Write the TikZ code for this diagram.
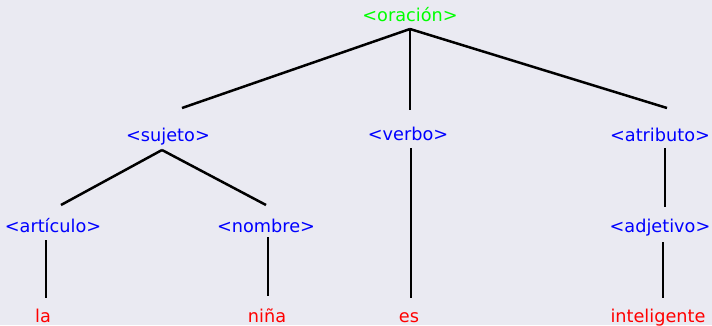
\documentclass[tikz,border=0pt]{standalone}
\usepackage{fontspec}
\setmainfont{DejaVu Sans}
\definecolor{bgtree}{HTML}{EAEAF2}
\definecolor{rootgreen}{HTML}{00FF00}
\begin{document}
\begin{tikzpicture}[x=1pt,y=-1pt]
\tikzset{every node/.style={inner sep=0pt,anchor=base,font=\fontsize{17.7}{21}\selectfont},
  rule/.style={text=blue},
  word/.style={text=red},
  branch/.style={black,line width=2.5pt}}
\fill [bgtree] (0,0) rectangle (712,325);
\useasboundingbox (0,0) rectangle (712,325);
% labels
\node [text=rootgreen] (oracion) at (410,21) {<oración>};
\node [rule] (sujeto) at (168,141) {<sujeto>};
\node [rule] (verbo) at (408,140) {<verbo>};
\node [rule] (atributo) at (660,141) {<atributo>};
\node [rule] (articulo) at (53,232) {<artículo>};
\node [rule] (nombre) at (266,232) {<nombre>};
\node [rule] (adjetivo) at (660,232) {<adjetivo>};
\node [word] (la) at (43,322) {la};
\node [word] (nina) at (267,322) {niña};
\node [word] (es) at (409,322) {es};
\node [word] (inteligente) at (658,322) {inteligente};
% branches
\draw [branch] ([yshift=-8pt]oracion.base) -- ([xshift=14pt,yshift=33pt]sujeto.base);
\draw [branch] ([yshift=-8pt]oracion.base) -- ([xshift=2pt,yshift=30pt]verbo.base);
\draw [branch] ([yshift=-8pt]oracion.base) -- ([xshift=7pt,yshift=33pt]atributo.base);
\draw [branch] ([xshift=-6pt,yshift=-9pt]sujeto.base) -- ([xshift=8pt,yshift=27pt]articulo.base);
\draw [branch] ([xshift=-6pt,yshift=-9pt]sujeto.base) -- ([yshift=27pt]nombre.base);
\draw [branch] ([xshift=3pt,yshift=-8pt]verbo.base) -- ([xshift=2pt,yshift=24pt]es.base);
\draw [branch] ([xshift=5pt,yshift=-7pt]atributo.base) -- ([xshift=5pt,yshift=25pt]adjetivo.base);
\draw [branch] ([xshift=-7pt,yshift=-8pt]articulo.base) -- ([xshift=3pt,yshift=24pt]la.base);
\draw [branch] ([xshift=2pt,yshift=-5pt]nombre.base) -- ([xshift=1pt,yshift=26pt]nina.base);
\draw [branch] ([xshift=3pt,yshift=-10pt]adjetivo.base) -- ([xshift=5pt,yshift=24pt]inteligente.base);
\end{tikzpicture}
\end{document}
